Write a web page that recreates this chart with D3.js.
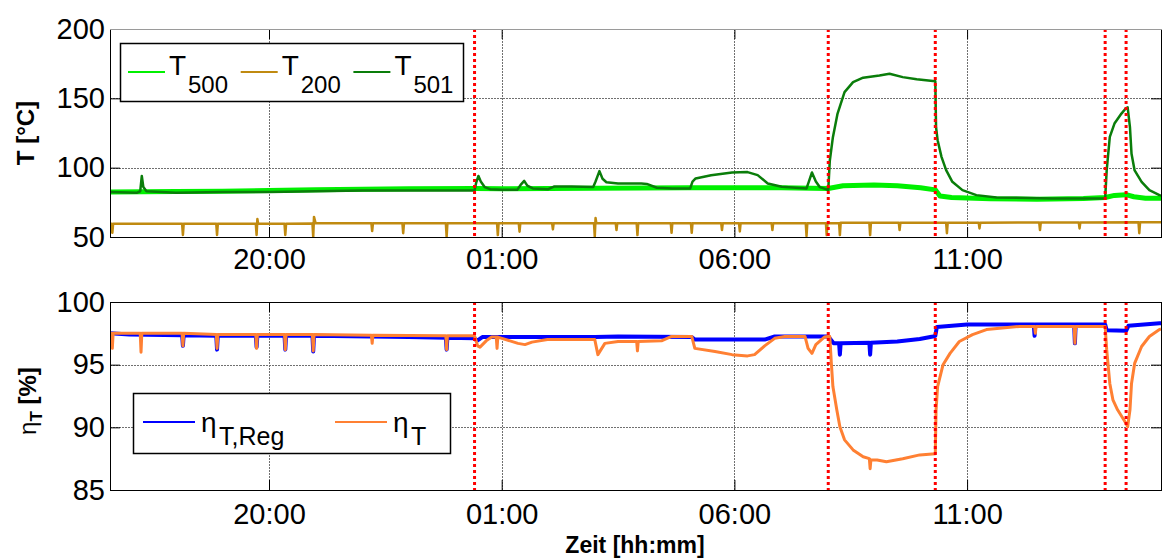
<!DOCTYPE html>
<html>
<head>
<meta charset="utf-8">
<script src="https://cdn.jsdelivr.net/npm/d3@7"></script>
<style>
  body { margin: 0; background: #fff; }
  svg { display: block; }
  text { font-family: "Liberation Sans", Arial, sans-serif; fill: #000; }
</style>
</head>
<body>
<svg id="chart" width="1163" height="559"></svg>
<script>
// ---- time axis ----
const startTime = "16:35";
const endTime = "15:10";
const xTickLabels = ["20:00", "01:00", "06:00", "11:00"];
const eventTimes = ["00:25", "08:01", "10:19", "13:58", "14:25"];

// ---- temperature panel ----
const tTicks = [50, 100, 150, 200];
const tempNames = ["500", "200", "501"];

const T500 = [
  ["16:35",82.5],["18:00",82.8],["19:00",83],["20:00",83.5],["21:00",84],["22:00",84.5],
  ["23:00",84.8],["00:25",85],["01:00",84.8],["02:00",85],["03:00",85.2],["04:00",85.3],
  ["05:00",85.5],["06:00",85.5],["07:00",85.5],["08:01",85],["08:20",87],["09:00",87.5],
  ["09:30",87],["10:00",85.5],["10:19",84],["10:25",79.5],["10:40",78.5],["11:30",77.5],
  ["12:30",77.3],["13:30",77.8],["13:58",78.5],["14:10",80],["14:25",80.5],["14:35",79],
  ["14:50",78],["15:10",78]
];

const T200 = [
  ["16:35",59.5],["16:37",59.5],["16:38",53],["16:39",59.5],["18:08",59.5],["18:09",51.5],["18:10",59.5],
  ["18:52",59.5],["18:53",51.5],["18:54",59.5],["19:43",59.5],["19:44",51.5],["19:45",63],["19:46",59.5],
  ["20:20",59.5],["20:21",51.5],["20:22",59.5],["20:56",59.8],["20:57",50],["20:58",64.5],["21:00",60],
  ["22:12",60],["22:13",54.3],["22:14",60],["22:52",60],["22:53",52.7],["22:54",60],["23:48",60],
  ["23:49",50.3],["23:50",60],["00:54",60],["00:55",51.4],["00:56",60],["01:22",60],["01:23",53.8],
  ["01:24",60],["02:05",60],["02:06",55.5],["02:07",60],["02:59",60],["03:00",50.2],["03:01",63.7],
  ["03:02",60],["03:27",60],["03:28",55],["03:29",60],["03:54",60],["03:55",51.4],["03:56",60],
  ["04:38",60],["04:39",53],["04:40",60],["05:04",60],["05:05",53],["05:06",60],["05:43",60],
  ["05:44",55],["05:45",60],["06:06",60],["06:07",54],["06:08",60],["06:48",60],["06:49",55],
  ["06:50",60],["07:32",60],["07:33",50.7],["07:34",60],["07:58",60],["07:59",51.4],["08:00",60],
  ["08:15",60],["08:16",51.4],["08:17",60.2],["08:54",60.2],["08:55",51.4],["08:56",60.2],["09:32",60.2],
  ["09:33",55],["09:34",60.2],["10:33",60.2],["10:34",52.7],["10:35",60.3],["11:15",60.3],["11:16",56.2],
  ["11:17",60.3],["12:33",60.5],["12:34",55],["12:35",60.5],["13:24",60.5],["13:25",56.2],["13:26",60.5],
  ["14:41",60.6],["14:42",52.7],["14:43",60.6],["15:10",60.6]
];

const T501 = [
  ["16:35",82.5],["17:10",82],["17:14",83],["17:16",94],["17:18",86],["17:22",83],["18:00",82],
  ["19:00",82.5],["20:00",82.5],["21:00",83],["22:00",83.5],["23:00",83.5],["00:25",83.5],
  ["00:27",89],["00:30",94],["00:33",90],["00:38",86],["00:45",84.5],["01:00",84],["01:20",84],
  ["01:25",88],["01:29",90.5],["01:33",87],["01:40",85],["02:00",84.5],["02:08",86.5],["02:30",86.5],
  ["02:58",86],["03:01",90],["03:06",97.5],["03:10",92],["03:15",89.5],["03:30",88.5],["04:00",88.6],
  ["04:07",88.3],["04:20",85.5],["04:40",85],["05:03",85],["05:06",90],["05:10",92.2],["05:30",94.5],
  ["05:57",96.5],["06:17",96.8],["06:30",94.6],["06:43",88.6],["07:01",86.2],["07:33",85],["07:36",90],
  ["07:40",96.5],["07:45",90],["07:50",86],["07:58",84.5],["08:01",83.8],["08:03",105],["08:07",122],
  ["08:13",139],["08:22",154.5],["08:33",161.7],["08:46",164.9],["09:07",166.5],["09:20",167.7],
  ["09:37",165.3],["09:55",163.7],["10:19",162.4],["10:20",129],["10:22",119.8],["10:27",107.8],
  ["10:33",98.2],["10:41",89.8],["10:54",83.8],["11:12",80.2],["11:38",78.5],["12:50",77.8],
  ["13:58",77.8],["14:00",98.2],["14:04",122.2],["14:10",131.8],["14:19",139],["14:25",143],
  ["14:27",143.5],["14:30",129],["14:32",110],["14:36",98],["14:45",89.8],["14:55",83.8],
  ["15:08",80.2],["15:10",80]
];

// ---- efficiency panel ----
const etaTicks = [85, 90, 95, 100];

const etaReg = [
  ["16:35",97.5],["17:00",97.4],["18:08",97.35],["18:09",96.5],["18:10",97.35],["18:52",97.3],
  ["18:53",96.2],["18:54",97.3],["19:43",97.3],["19:44",96.4],["19:45",97.3],["20:20",97.3],
  ["20:21",96.2],["20:22",97.3],["20:56",97.3],["20:57",96.05],["20:58",97.3],["23:00",97.2],
  ["23:48",97.15],["23:49",96.2],["23:50",97.15],["00:25",97.1],["00:28",96.9],["00:35",97.2],
  ["03:00",97.2],["03:30",97.25],["05:05",97.2],["05:09",97.0],["06:39",97.0],["06:52",97.25],
  ["08:01",97.25],["08:08",96.7],["08:15",96.7],["08:16",95.8],["08:17",96.7],["08:54",96.75],
  ["08:55",95.8],["08:56",96.75],["09:30",96.85],["09:59",97.05],["10:16",97.25],["10:19",97.3],
  ["10:21",98.0],["11:00",98.2],["12:26",98.2],["12:27",97.3],["12:28",98.2],["13:18",98.2],
  ["13:19",96.7],["13:20",98.2],["13:58",98.2],["14:00",97.75],["14:25",97.7],["14:28",98.1],
  ["15:08",98.3],["15:10",98.3]
];

const etaT = [
  ["16:35",97.5],["16:37",97.5],["16:38",96.3],["16:39",97.5],["17:14",97.5],["17:15",96.0],
  ["17:16",97.5],["18:08",97.5],["18:09",96.5],["18:10",97.5],["18:52",97.4],["18:53",96.3],
  ["18:54",97.4],["19:43",97.4],["19:44",96.3],["19:45",97.4],["20:20",97.4],["20:21",96.2],
  ["20:22",97.4],["20:56",97.4],["20:57",96.1],["20:58",97.4],["22:12",97.35],["22:13",96.7],
  ["22:14",97.35],["23:48",97.3],["23:49",96.2],["23:50",97.3],["00:25",97.3],["00:29",96.5],
  ["00:32",96.4],["00:40",96.9],["00:47",97.2],["00:53",97.2],["00:54",96.3],["00:55",97.2],
  ["01:21",96.7],["01:30",96.6],["01:39",96.8],["01:59",97.0],["02:30",97.0],["03:00",97.0],
  ["03:04",95.8],["03:13",96.7],["03:30",96.85],["03:54",96.85],["03:55",96.1],["03:56",96.85],
  ["04:26",96.9],["04:39",97.25],["05:05",97.25],["05:09",96.3],["05:35",96.05],["05:57",95.8],
  ["06:17",95.7],["06:26",95.8],["06:39",96.5],["06:52",97.1],["07:05",97.25],["07:31",97.25],
  ["07:35",96.3],["07:40",95.9],["07:45",96.6],["07:56",97.2],["08:01",97.25],["08:03",97.25],
  ["08:05",95.1],["08:07",93.25],["08:12",91.4],["08:16",90.05],["08:22",89.0],["08:33",88.2],
  ["08:46",87.65],["08:54",87.5],["08:55",86.7],["08:56",87.4],["09:04",87.4],["09:16",87.25],
  ["09:37",87.5],["09:59",87.8],["10:19",87.9],["10:20",91.4],["10:22",93.25],["10:29",95.0],
  ["10:38",95.9],["10:50",96.85],["11:07",97.4],["11:25",97.8],["12:08",98.05],["12:27",98.05],
  ["12:28",97.5],["12:29",98.05],["13:18",98.05],["13:19",96.7],["13:20",98.05],["13:58",98.05],
  ["14:00",96.2],["14:04",93.5],["14:08",92.2],["14:14",91.4],["14:19",90.9],["14:25",90.3],
  ["14:27",90.05],["14:30",91.4],["14:32",93.5],["14:36",95.1],["14:45",96.45],["14:55",97.25],
  ["15:08",97.8],["15:10",97.85]
];

// ---- helpers ----
// clock strings before 16:00 belong to the following day
function toDate(s) {
  const [h, m] = s.split(":").map(Number);
  return new Date(2014, 0, h >= 16 ? 1 : 2, h, m);
}

const svg = d3.select("#chart");
const left = 110, right = 1161;
const panels = {
  temp: { top: 29, bottom: 237 },
  eta:  { top: 302, bottom: 490 }
};

const x = d3.scaleTime()
  .domain([toDate(startTime), toDate(endTime)])
  .range([left, right]);
const xTicks = xTickLabels.map(toDate);

const yT = d3.scaleLinear().domain([50, 200]).range([panels.temp.bottom, panels.temp.top]);
const yE = d3.scaleLinear().domain([85, 100]).range([panels.eta.bottom, panels.eta.top]);

const colors = {
  T500: "#00f000",
  T200: "#c08a10",
  T501: "#0a7d0a",
  etaReg: "#0000ff",
  etaT: "#ff8033"
};

function drawPanel(id, p, y, yTicks, series, topBorderColor, xPad) {
  const g = svg.append("g").attr("class", "panel-" + id);

  // clip
  svg.append("clipPath").attr("id", "clip-" + id)
    .append("rect").attr("x", left).attr("y", p.top)
    .attr("width", right - left).attr("height", p.bottom - p.top);

  // grid
  const grid = g.append("g").attr("stroke", "#707070").attr("stroke-width", 1)
    .attr("stroke-dasharray", "2,1").attr("shape-rendering", "crispEdges");
  grid.selectAll("line.h").data(yTicks).join("line")
    .attr("x1", left).attr("x2", right)
    .attr("y1", d => Math.round(y(d)) + 0.5).attr("y2", d => Math.round(y(d)) + 0.5);
  grid.selectAll("line.v").data(xTicks).join("line")
    .attr("y1", p.top).attr("y2", p.bottom)
    .attr("x1", d => Math.round(x(d)) + 0.5).attr("x2", d => Math.round(x(d)) + 0.5);

  // data lines
  const line = d3.line().x(d => x(toDate(d[0]))).y(d => y(d[1]));
  const lines = g.append("g").attr("clip-path", "url(#clip-" + id + ")");
  series.forEach(s => {
    lines.append("path").datum(s.data)
      .attr("fill", "none").attr("stroke", s.color)
      .attr("stroke-width", s.width).attr("stroke-linejoin", "round")
      .attr("d", line);
  });

  // event markers
  g.append("g").selectAll("line").data(eventTimes).join("line")
    .attr("x1", d => x(toDate(d))).attr("x2", d => x(toDate(d)))
    .attr("y1", p.top).attr("y2", p.bottom)
    .attr("stroke", "#ff0000").attr("stroke-width", 3)
    .attr("stroke-dasharray", "3,3");

  // axes (ticks point inward)
  const axL = d3.axisLeft(y).tickValues(yTicks).tickSize(-10).tickSizeOuter(0).tickPadding(5);
  const axR = d3.axisRight(y).tickValues(yTicks).tickSize(-10).tickSizeOuter(0).tickFormat("");
  const axB = d3.axisBottom(x).tickValues(xTicks).tickSize(-10).tickSizeOuter(0).tickPadding(xPad)
    .tickFormat((d, i) => xTickLabels[i]);
  const axT = d3.axisTop(x).tickValues(xTicks).tickSize(-10).tickSizeOuter(0).tickFormat("");

  const styleAxis = sel => {
    sel.select(".domain").remove();
    sel.selectAll("line").attr("stroke", "#000").attr("stroke-width", 1);
    sel.selectAll("text").attr("font-size", 29).attr("fill", "#000")
      .attr("font-family", "'Liberation Sans', Arial, sans-serif");
  };
  g.append("g").attr("transform", `translate(${left},0)`).call(axL).call(styleAxis);
  g.append("g").attr("transform", `translate(${right},0)`).call(axR).call(styleAxis);
  g.append("g").attr("transform", `translate(0,${p.bottom})`).call(axB).call(styleAxis);
  g.append("g").attr("transform", `translate(0,${p.top})`).call(axT).call(styleAxis);

  // frame
  const f = g.append("g").attr("fill", "none").attr("shape-rendering", "crispEdges");
  f.append("line").attr("x1", left + 0.5).attr("x2", left + 0.5).attr("y1", p.top).attr("y2", p.bottom + 1)
    .attr("stroke", "#000").attr("stroke-width", 1.5);
  f.append("line").attr("x1", left).attr("x2", right + 1).attr("y1", p.bottom + 0.5).attr("y2", p.bottom + 0.5)
    .attr("stroke", "#000").attr("stroke-width", 1.5);
  f.append("line").attr("x1", right + 0.5).attr("x2", right + 0.5).attr("y1", p.top).attr("y2", p.bottom + 1)
    .attr("stroke", "#000").attr("stroke-width", 1);
  f.append("line").attr("x1", left).attr("x2", right + 1).attr("y1", p.top + 0.5).attr("y2", p.top + 0.5)
    .attr("stroke", topBorderColor).attr("stroke-width", 1.5);
  return g;
}

drawPanel("temp", panels.temp, yT, tTicks, [
  { data: T500, color: colors.T500, width: 5 },
  { data: T200, color: colors.T200, width: 2.5 },
  { data: T501, color: colors.T501, width: 2.5 }
], "#9a9a9a", 11);

drawPanel("eta", panels.eta, yE, etaTicks, [
  { data: etaReg, color: colors.etaReg, width: 4 },
  { data: etaT, color: colors.etaT, width: 3 }
], "#000", 13);

// ---- legend: temperatures ----
const lg1 = svg.append("g");
lg1.append("rect").attr("x", 120.5).attr("y", 43.5).attr("width", 343).attr("height", 58)
  .attr("fill", "#fff").attr("stroke", "#000").attr("stroke-width", 1.5);
[colors.T500, colors.T200, colors.T501].forEach((c, i) => {
  const x0 = 128 + i * 112.7;
  lg1.append("line").attr("x1", x0).attr("x2", x0 + 37).attr("y1", 72).attr("y2", 72)
    .attr("stroke", c).attr("stroke-width", 2);
  lg1.append("text").attr("x", x0 + 41).attr("y", 75).attr("font-size", 28).text("T");
  lg1.append("text").attr("x", x0 + 60).attr("y", 93).attr("font-size", 24).text(tempNames[i]);
});

// ---- legend: efficiencies ----
const lg2 = svg.append("g");
lg2.append("rect").attr("x", 133.5).attr("y", 393.5).attr("width", 317).attr("height", 60)
  .attr("fill", "#fff").attr("stroke", "#000").attr("stroke-width", 1.5);
const etaLegend = [
  { color: colors.etaReg, x0: 143, sub: "T,Reg" },
  { color: colors.etaT, x0: 335, sub: "T" }
];
etaLegend.forEach(d => {
  lg2.append("line").attr("x1", d.x0).attr("x2", d.x0 + 52).attr("y1", 422).attr("y2", 422)
    .attr("stroke", d.color).attr("stroke-width", 2);
  lg2.append("text").attr("x", d.x0 + 58).attr("y", 432).attr("font-size", 28).text("\u03B7");
  lg2.append("text").attr("x", d.x0 + 76).attr("y", 445).attr("font-size", 25).text(d.sub);
});

// ---- axis titles ----
svg.append("text")
  .attr("transform", "translate(34,133) rotate(-90)")
  .attr("text-anchor", "middle").attr("font-size", 24).attr("font-weight", "bold")
  .text("T [°C]");

const yl2 = svg.append("text")
  .attr("transform", "translate(36,401) rotate(-90)")
  .attr("text-anchor", "middle").attr("font-size", 24).attr("font-weight", "bold");
yl2.append("tspan").attr("font-weight", "normal").text("\u03B7");
yl2.append("tspan").attr("font-size", 17).attr("dy", 6).text("T");
yl2.append("tspan").attr("dy", -6).text(" [%]");

svg.append("text")
  .attr("x", 635).attr("y", 553)
  .attr("text-anchor", "middle").attr("font-size", 23).attr("font-weight", "bold")
  .text("Zeit [hh:mm]");
</script>
</body>
</html>
